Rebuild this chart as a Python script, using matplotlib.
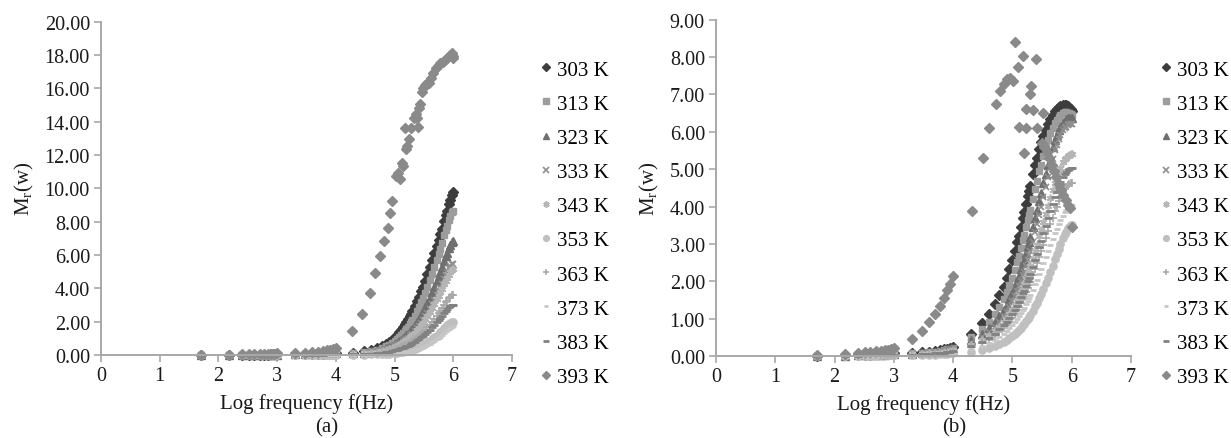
import matplotlib
matplotlib.use('Agg')
import matplotlib.pyplot as plt
from matplotlib.ticker import FormatStrFormatter, MultipleLocator

plt.rcParams['font.family'] = ['Liberation Serif', 'DejaVu Serif']
plt.rcParams['mathtext.fontset'] = 'custom'
plt.rcParams['mathtext.rm'] = 'Liberation Serif'
plt.rcParams['mathtext.it'] = 'Liberation Serif:italic'

labels = ['303 K', '313 K', '323 K', '333 K', '343 K', '353 K', '363 K', '373 K', '383 K', '393 K']

# log10 of measurement frequency
freq_low = [1.70, 2.18, 2.40, 2.52, 2.60, 2.70, 2.78, 2.85, 2.90, 2.95, 3.00,
            3.30, 3.48, 3.60, 3.70, 3.78, 3.85, 3.90, 3.95, 4.00]
freq_high = [4.30, 4.48, 4.60, 4.70, 4.78, 4.85, 4.90, 4.95, 5.00, 5.04,
             5.08, 5.11, 5.15, 5.18, 5.20, 5.23, 5.26, 5.28, 5.30, 5.34,
             5.38, 5.41, 5.45, 5.48, 5.52, 5.56, 5.60, 5.64, 5.68, 5.72,
             5.75, 5.78, 5.81, 5.85, 5.88, 5.90, 5.93, 5.95, 5.98, 6.00]

# ---------------- panel (a) ----------------
a_303_low = [0.01, 0.01, 0.02, 0.02, 0.02, 0.03, 0.03, 0.03, 0.04, 0.04, 0.04, 0.05, 0.06, 0.07, 0.08, 0.09, 0.10, 0.11, 0.12, 0.13]
a_303_high = [0.15, 0.22, 0.30, 0.40, 0.52, 0.66, 0.78, 0.92, 1.08, 1.22, 1.38, 1.50, 1.68, 1.84, 1.96, 2.14, 2.34, 2.48, 2.62, 2.92,
              3.24, 3.48, 3.82, 4.08, 4.46, 4.86, 5.26, 5.68, 6.12, 6.56, 6.90, 7.24, 7.58, 8.06, 8.42, 8.66, 9.04, 9.28, 9.62, 9.80]
a_313_low = [0.01, 0.01, 0.01, 0.02, 0.02, 0.02, 0.03, 0.03, 0.03, 0.03, 0.04, 0.04, 0.05, 0.06, 0.07, 0.08, 0.09, 0.10, 0.11, 0.12]
a_313_high = [0.12, 0.18, 0.24, 0.32, 0.42, 0.53, 0.62, 0.73, 0.86, 0.97, 1.10, 1.20, 1.34, 1.47, 1.56, 1.71, 1.87, 1.98, 2.10, 2.36,
              2.64, 2.86, 3.16, 3.40, 3.74, 4.10, 4.48, 4.88, 5.30, 5.72, 6.04, 6.38, 6.72, 7.18, 7.52, 7.76, 8.10, 8.32, 8.56, 8.62]
a_323_low = [0.01, 0.01, 0.01, 0.01, 0.02, 0.02, 0.02, 0.02, 0.03, 0.03, 0.03, 0.04, 0.05, 0.05, 0.06, 0.07, 0.08, 0.08, 0.09, 0.10]
a_323_high = [0.10, 0.15, 0.20, 0.26, 0.33, 0.41, 0.48, 0.56, 0.65, 0.74, 0.83, 0.91, 1.02, 1.11, 1.18, 1.29, 1.41, 1.49, 1.58, 1.78,
              1.99, 2.16, 2.40, 2.59, 2.86, 3.14, 3.44, 3.76, 4.10, 4.44, 4.72, 5.00, 5.28, 5.66, 5.94, 6.14, 6.42, 6.60, 6.80, 6.85]
a_333_low = [0.00, 0.01, 0.01, 0.01, 0.01, 0.02, 0.02, 0.02, 0.02, 0.03, 0.03, 0.03, 0.04, 0.05, 0.05, 0.06, 0.07, 0.07, 0.08, 0.09]
a_333_high = [0.08, 0.12, 0.16, 0.21, 0.27, 0.33, 0.39, 0.45, 0.53, 0.60, 0.67, 0.73, 0.82, 0.90, 0.95, 1.04, 1.14, 1.21, 1.28, 1.44,
              1.61, 1.75, 1.94, 2.10, 2.32, 2.55, 2.79, 3.05, 3.32, 3.60, 3.82, 4.05, 4.28, 4.58, 4.82, 4.98, 5.20, 5.34, 5.48, 5.45]
a_343_low = [0.00, 0.01, 0.01, 0.01, 0.01, 0.01, 0.02, 0.02, 0.02, 0.02, 0.03, 0.03, 0.04, 0.04, 0.05, 0.05, 0.06, 0.07, 0.07, 0.08]
a_343_high = [0.07, 0.11, 0.15, 0.19, 0.25, 0.30, 0.36, 0.42, 0.49, 0.55, 0.62, 0.68, 0.76, 0.83, 0.88, 0.97, 1.06, 1.12, 1.19, 1.34,
              1.50, 1.63, 1.80, 1.95, 2.16, 2.37, 2.59, 2.83, 3.08, 3.34, 3.55, 3.76, 3.97, 4.25, 4.47, 4.62, 4.83, 4.96, 5.10, 5.15]
a_353_low = [0.00, 0.00, 0.01, 0.01, 0.01, 0.01, 0.01, 0.01, 0.01, 0.01, 0.01, 0.02, 0.02, 0.02, 0.02, 0.02, 0.03, 0.03, 0.03, 0.03]
a_353_high = [0.02, 0.03, 0.04, 0.05, 0.06, 0.08, 0.09, 0.10, 0.12, 0.14, 0.16, 0.18, 0.20, 0.22, 0.24, 0.27, 0.30, 0.32, 0.34, 0.39,
              0.44, 0.49, 0.55, 0.60, 0.68, 0.76, 0.85, 0.95, 1.06, 1.17, 1.26, 1.36, 1.46, 1.60, 1.71, 1.78, 1.88, 1.94, 2.00, 1.98]
a_363_low = [0.00, 0.00, 0.01, 0.01, 0.01, 0.01, 0.01, 0.01, 0.02, 0.02, 0.02, 0.02, 0.03, 0.03, 0.03, 0.04, 0.04, 0.05, 0.05, 0.05]
a_363_high = [0.05, 0.08, 0.10, 0.14, 0.18, 0.22, 0.26, 0.30, 0.35, 0.39, 0.44, 0.48, 0.54, 0.59, 0.62, 0.68, 0.75, 0.79, 0.84, 0.94,
              1.05, 1.15, 1.27, 1.38, 1.52, 1.67, 1.83, 2.00, 2.17, 2.36, 2.50, 2.65, 2.80, 3.00, 3.16, 3.26, 3.41, 3.50, 3.59, 3.62]
a_373_low = [0.00, 0.00, 0.00, 0.01, 0.01, 0.01, 0.01, 0.01, 0.01, 0.01, 0.01, 0.01, 0.02, 0.02, 0.02, 0.02, 0.02, 0.03, 0.03, 0.03]
a_373_high = [0.02, 0.02, 0.03, 0.04, 0.05, 0.06, 0.07, 0.08, 0.09, 0.10, 0.12, 0.13, 0.15, 0.17, 0.18, 0.20, 0.22, 0.24, 0.26, 0.30,
              0.34, 0.38, 0.43, 0.47, 0.53, 0.60, 0.68, 0.76, 0.85, 0.95, 1.03, 1.11, 1.20, 1.32, 1.42, 1.48, 1.58, 1.64, 1.70, 1.72]
a_383_low = [0.00, 0.00, 0.01, 0.01, 0.01, 0.01, 0.01, 0.01, 0.01, 0.02, 0.02, 0.02, 0.02, 0.03, 0.03, 0.03, 0.04, 0.04, 0.04, 0.05]
a_383_high = [0.04, 0.07, 0.09, 0.12, 0.15, 0.18, 0.21, 0.25, 0.29, 0.33, 0.37, 0.40, 0.45, 0.50, 0.52, 0.57, 0.63, 0.67, 0.70, 0.79,
              0.89, 0.96, 1.07, 1.16, 1.28, 1.40, 1.53, 1.68, 1.83, 1.98, 2.10, 2.23, 2.35, 2.52, 2.65, 2.74, 2.86, 2.94, 3.01, 3.00]
a_393_x = [1.70, 2.18, 2.40, 2.52, 2.60, 2.70, 2.78, 2.85, 2.90, 2.95, 3.00, 3.30, 3.48, 3.60, 3.70, 3.78, 3.85, 3.90, 3.95, 4.00,
           4.27, 4.45, 4.58, 4.67, 4.75, 4.82, 4.88, 4.92, 4.96, 5.02, 5.06, 5.09, 5.12, 5.15, 5.18, 5.20, 5.22, 5.25, 5.28, 5.33,
           5.36, 5.38, 5.40, 5.42, 5.44, 5.46, 5.49, 5.52, 5.55, 5.58, 5.62, 5.66, 5.70, 5.74, 5.78, 5.82, 5.86, 5.90, 5.94, 5.97,
           5.99, 6.00]
a_393_y = [0.02, 0.03, 0.04, 0.05, 0.05, 0.06, 0.07, 0.08, 0.08, 0.09, 0.10, 0.12, 0.15, 0.18, 0.21, 0.25, 0.28, 0.31, 0.35, 0.40,
           1.45, 2.45, 3.75, 4.95, 5.95, 6.85, 7.65, 8.55, 9.25, 10.75, 10.95, 10.55, 11.55, 11.35, 13.60, 12.35, 12.55, 12.95, 13.65, 14.25,
           14.45, 14.20, 13.70, 14.85, 15.05, 15.80, 16.00, 16.20, 16.35, 16.30, 16.60, 16.95, 17.20, 17.35, 17.50, 17.60, 17.70, 17.85, 18.00, 18.10,
           17.80, 17.95]

# ---------------- panel (b) ----------------
b_303_low = [0.01, 0.02, 0.03, 0.03, 0.04, 0.05, 0.05, 0.06, 0.06, 0.07, 0.07, 0.08, 0.10, 0.12, 0.14, 0.16, 0.18, 0.20, 0.22, 0.25]
b_303_high = [0.60, 0.88, 1.12, 1.38, 1.62, 1.85, 2.08, 2.33, 2.58, 2.82, 3.04, 3.20, 3.44, 3.70, 3.86, 4.08, 4.28, 4.42, 4.56, 4.86,
              5.12, 5.30, 5.55, 5.72, 5.90, 6.06, 6.20, 6.33, 6.44, 6.55, 6.61, 6.66, 6.70, 6.72, 6.72, 6.71, 6.68, 6.65, 6.60, 6.55]
b_313_low = [0.01, 0.02, 0.02, 0.03, 0.03, 0.04, 0.04, 0.05, 0.05, 0.06, 0.06, 0.07, 0.09, 0.10, 0.12, 0.14, 0.16, 0.18, 0.20, 0.22]
b_313_high = [0.50, 0.72, 0.92, 1.12, 1.32, 1.52, 1.70, 1.90, 2.10, 2.30, 2.52, 2.68, 2.90, 3.10, 3.24, 3.44, 3.64, 3.78, 3.92, 4.20,
              4.48, 4.68, 4.94, 5.12, 5.36, 5.58, 5.78, 5.96, 6.10, 6.23, 6.32, 6.40, 6.46, 6.50, 6.52, 6.52, 6.51, 6.50, 6.47, 6.44]
b_323_low = [0.01, 0.01, 0.02, 0.02, 0.03, 0.03, 0.04, 0.04, 0.05, 0.05, 0.06, 0.06, 0.08, 0.09, 0.11, 0.12, 0.14, 0.16, 0.18, 0.20]
b_323_high = [0.42, 0.58, 0.74, 0.90, 1.06, 1.22, 1.36, 1.52, 1.68, 1.84, 2.00, 2.14, 2.32, 2.48, 2.58, 2.76, 2.94, 3.06, 3.18, 3.44,
              3.70, 3.90, 4.16, 4.36, 4.62, 4.88, 5.12, 5.36, 5.58, 5.78, 5.92, 6.04, 6.14, 6.24, 6.30, 6.33, 6.36, 6.37, 6.37, 6.36]
b_333_low = [0.01, 0.01, 0.02, 0.02, 0.02, 0.03, 0.03, 0.04, 0.04, 0.04, 0.05, 0.05, 0.07, 0.08, 0.09, 0.11, 0.12, 0.14, 0.15, 0.17]
b_333_high = [0.36, 0.50, 0.64, 0.78, 0.92, 1.06, 1.18, 1.32, 1.46, 1.60, 1.74, 1.86, 2.02, 2.16, 2.26, 2.42, 2.58, 2.70, 2.82, 3.06,
              3.32, 3.52, 3.78, 3.98, 4.26, 4.52, 4.78, 5.04, 5.28, 5.50, 5.66, 5.80, 5.92, 6.04, 6.10, 6.14, 6.18, 6.20, 6.21, 6.20]
b_343_low = [0.00, 0.01, 0.01, 0.02, 0.02, 0.02, 0.03, 0.03, 0.03, 0.04, 0.04, 0.05, 0.06, 0.07, 0.08, 0.09, 0.10, 0.12, 0.13, 0.15]
b_343_high = [0.30, 0.42, 0.54, 0.66, 0.78, 0.90, 1.00, 1.12, 1.24, 1.36, 1.48, 1.58, 1.72, 1.84, 1.92, 2.06, 2.20, 2.30, 2.40, 2.60,
              2.82, 2.98, 3.20, 3.36, 3.58, 3.80, 4.02, 4.24, 4.44, 4.64, 4.78, 4.92, 5.04, 5.18, 5.26, 5.31, 5.36, 5.38, 5.40, 5.40]
b_353_low = [0.00, 0.01, 0.01, 0.01, 0.01, 0.01, 0.02, 0.02, 0.02, 0.02, 0.02, 0.03, 0.03, 0.04, 0.04, 0.05, 0.05, 0.06, 0.07, 0.08]
b_353_high = [0.12, 0.17, 0.22, 0.27, 0.32, 0.37, 0.42, 0.47, 0.53, 0.58, 0.64, 0.69, 0.76, 0.82, 0.86, 0.93, 1.00, 1.05, 1.10, 1.21,
              1.33, 1.42, 1.55, 1.65, 1.80, 1.95, 2.10, 2.26, 2.42, 2.60, 2.73, 2.86, 2.99, 3.15, 3.26, 3.33, 3.42, 3.46, 3.50, 3.50]
b_363_low = [0.00, 0.01, 0.01, 0.01, 0.02, 0.02, 0.02, 0.02, 0.03, 0.03, 0.03, 0.04, 0.05, 0.05, 0.06, 0.07, 0.08, 0.09, 0.10, 0.11]
b_363_high = [0.24, 0.34, 0.44, 0.54, 0.64, 0.74, 0.82, 0.92, 1.02, 1.12, 1.22, 1.30, 1.42, 1.52, 1.58, 1.70, 1.82, 1.90, 1.98, 2.16,
              2.34, 2.48, 2.66, 2.80, 2.98, 3.16, 3.34, 3.52, 3.70, 3.88, 4.00, 4.14, 4.26, 4.40, 4.48, 4.53, 4.58, 4.60, 4.62, 4.62]
b_373_low = [0.00, 0.01, 0.01, 0.01, 0.01, 0.02, 0.02, 0.02, 0.02, 0.03, 0.03, 0.03, 0.04, 0.05, 0.05, 0.06, 0.07, 0.08, 0.08, 0.09]
b_373_high = [0.20, 0.28, 0.36, 0.44, 0.52, 0.60, 0.67, 0.75, 0.83, 0.91, 0.99, 1.06, 1.15, 1.23, 1.29, 1.38, 1.48, 1.55, 1.62, 1.77,
              1.92, 2.04, 2.20, 2.32, 2.48, 2.64, 2.80, 2.96, 3.12, 3.28, 3.40, 3.52, 3.63, 3.76, 3.85, 3.90, 3.96, 3.99, 4.02, 4.03]
b_383_low = [0.00, 0.01, 0.01, 0.02, 0.02, 0.02, 0.02, 0.03, 0.03, 0.03, 0.04, 0.04, 0.05, 0.06, 0.07, 0.08, 0.09, 0.10, 0.11, 0.13]
b_383_high = [0.27, 0.38, 0.49, 0.60, 0.71, 0.82, 0.91, 1.02, 1.13, 1.24, 1.35, 1.44, 1.57, 1.68, 1.75, 1.88, 2.01, 2.10, 2.19, 2.38,
              2.58, 2.73, 2.93, 3.08, 3.28, 3.48, 3.68, 3.88, 4.07, 4.26, 4.40, 4.53, 4.65, 4.79, 4.88, 4.93, 4.98, 5.00, 5.02, 5.02]
b_393_x = [1.70, 2.18, 2.40, 2.52, 2.60, 2.70, 2.78, 2.85, 2.90, 2.95, 3.00, 3.30, 3.48, 3.60, 3.70, 3.78, 3.85, 3.90, 3.95, 4.00,
           4.31, 4.50, 4.61, 4.72, 4.79, 4.85, 4.90, 4.96, 5.01, 5.05, 5.09, 5.17, 5.11, 5.23, 5.20, 5.23, 5.30, 5.31, 5.34, 5.40,
           5.41, 5.52, 5.50, 5.54, 5.58, 5.62, 5.66, 5.70, 5.74, 5.78, 5.82, 5.86, 5.90, 5.94, 5.97, 6.00]
b_393_y = [0.03, 0.06, 0.08, 0.10, 0.11, 0.13, 0.14, 0.16, 0.17, 0.19, 0.21, 0.45, 0.68, 0.90, 1.12, 1.35, 1.54, 1.77, 1.94, 2.13,
           3.89, 5.31, 6.11, 6.74, 7.09, 7.27, 7.42, 7.45, 7.36, 8.39, 7.74, 8.03, 6.13, 6.11, 5.42, 6.62, 7.00, 7.23, 6.58, 7.96,
           6.11, 6.49, 5.70, 5.60, 5.45, 5.30, 5.12, 4.95, 4.78, 4.60, 4.45, 4.30, 4.18, 4.05, 3.95, 3.45]

freq = freq_low + freq_high
panel_a = [
    (freq, a_303_low + a_303_high), (freq, a_313_low + a_313_high), (freq, a_323_low + a_323_high),
    (freq, a_333_low + a_333_high), (freq, a_343_low + a_343_high), (freq, a_353_low + a_353_high),
    (freq, a_363_low + a_363_high), (freq, a_373_low + a_373_high), (freq, a_383_low + a_383_high),
    (a_393_x, a_393_y)]
panel_b = [
    (freq, b_303_low + b_303_high), (freq, b_313_low + b_313_high), (freq, b_323_low + b_323_high),
    (freq, b_333_low + b_333_high), (freq, b_343_low + b_343_high), (freq, b_353_low + b_353_high),
    (freq, b_363_low + b_363_high), (freq, b_373_low + b_373_high), (freq, b_383_low + b_383_high),
    (b_393_x, b_393_y)]

styles = [
    dict(marker='D', ms=5.0, color='#3d3d3d'),
    dict(marker='s', ms=5.0, color='#9c9c9c'),
    dict(marker='^', ms=5.6, color='#6f6f6f'),
    dict(marker='x', ms=5.0, mew=1.2, color='#8e8e8e'),
    dict(marker=(6, 2, 0), ms=5.6, mew=1.2, color='#b5b5b5'),
    dict(marker='o', ms=5.2, color='#bfbfbf'),
    dict(marker='+', ms=5.6, mew=1.2, color='#a9a9a9'),
    dict(marker='_', ms=4.0, mew=2.0, color='#c6c6c6'),
    dict(marker='_', ms=5.6, mew=2.0, color='#818181'),
    dict(marker='D', ms=5.6, color='#8a8a8a'),
]

W, H = 1231, 439
fig = plt.figure(figsize=(W / 100, H / 100), dpi=100)
FS = 15
axis_col = '#a8a8a8'


def setup(ax, ymax, ystep):
    ax.set_xlim(0, 7)
    ax.set_ylim(0, ymax)
    ax.xaxis.set_major_locator(MultipleLocator(1))
    ax.yaxis.set_major_locator(MultipleLocator(ystep))
    ax.yaxis.set_major_formatter(FormatStrFormatter('%.2f'))
    for s in ('top', 'right'):
        ax.spines[s].set_visible(False)
    for s in ('left', 'bottom'):
        ax.spines[s].set_color(axis_col)
        ax.spines[s].set_linewidth(1.4)
    ax.tick_params(axis='both', direction='out', length=5, width=1.2, color=axis_col,
                   labelsize=FS - 0.5, labelcolor='#1a1a1a', pad=3)
    ax.set_xlabel('Log frequency f(Hz)', fontsize=FS, color='#1a1a1a', labelpad=6)
    ax.set_ylabel('M$_{\\mathrm{r}}$(w)', fontsize=FS, color='#1a1a1a', labelpad=6)


def draw(ax, data):
    handles = []
    for (x, y), st in zip(data, styles):
        st = dict(st)
        col = st.pop('color')
        h, = ax.plot(x, y, linestyle='none', color=col, mfc=col, mec=col, clip_on=False, **st)
        handles.append(h)
    return handles


ax_a = fig.add_axes([101 / W, (H - 356) / H, (512 - 101) / W, (356 - 22.7) / H])
ax_b = fig.add_axes([716 / W, (H - 357) / H, (1131 - 716) / W, (357 - 20.7) / H])
setup(ax_a, 20, 2)
setup(ax_b, 9, 1)
ha = draw(ax_a, panel_a)
hb = draw(ax_b, panel_b)

for handles, x0 in ((ha, 540), (hb, 1160)):
    fig.legend(handles, labels, loc='upper left', bbox_to_anchor=(x0 / W, 1 - 61 / H),
               bbox_transform=fig.transFigure, frameon=False, fontsize=FS,
               handlelength=0.55, handletextpad=0.25, labelspacing=0.70,
               borderpad=0, borderaxespad=0, numpoints=1, markerscale=0.8)

fig.text(327 / W, 1 - 428 / H, '(a)', ha='center', va='center', fontsize=FS, color='#1a1a1a')
fig.text(954 / W, 1 - 428 / H, '(b)', ha='center', va='center', fontsize=FS, color='#1a1a1a')

fig.savefig('out.png', dpi=100)
